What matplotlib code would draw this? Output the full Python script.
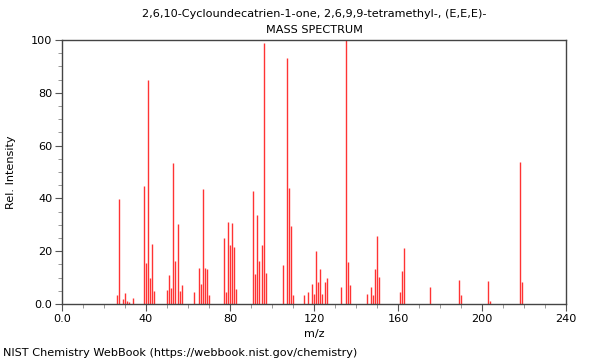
import matplotlib
matplotlib.use("Agg")
import matplotlib.pyplot as plt
from matplotlib.ticker import MultipleLocator, FixedLocator

mz = [26, 27, 29, 30, 31, 32, 34, 39, 40, 41, 42, 43, 44,
      50, 51, 52, 53, 54, 55, 56, 57, 63, 65, 66, 67, 68, 69, 70,
      77, 78, 79, 80, 81, 82, 83, 91, 92, 93, 94, 95, 96, 97,
      105, 107, 108, 109, 110, 115, 117, 119, 120, 121, 122, 123, 124, 125, 126,
      133, 135, 136, 137, 145, 147, 148, 149, 150, 151, 161, 162, 163, 175,
      189, 190, 203, 204, 218, 219]
intensity = [3.4, 39.8, 2.0, 4.0, 1.3, 0.8, 2.3, 44.8, 15.7, 84.8, 10.0, 22.9, 5.1,
             5.4, 11.0, 6.1, 53.3, 16.4, 30.4, 4.8, 7.3, 4.4, 13.6, 7.6, 43.7, 13.6, 13.3, 3.5,
             25.1, 4.5, 31.2, 22.3, 30.8, 21.5, 5.7, 42.9, 11.2, 33.8, 16.2, 22.5, 98.9, 11.9,
             14.9, 93.3, 44.1, 29.7, 3.4, 3.4, 4.4, 7.7, 3.9, 20.2, 8.5, 13.1, 3.9, 8.5, 10.0,
             6.4, 100.0, 16.0, 7.2, 3.9, 6.6, 3.5, 13.4, 25.9, 10.1, 4.5, 12.4, 21.3, 6.6,
             9.1, 3.5, 8.8, 1.3, 53.9, 8.3]

title_lines = ["2,6,10-Cycloundecatrien-1-one, 2,6,9,9-tetramethyl-, (E,E,E)-",
               "MASS SPECTRUM"]
x_ticks = [0, 40, 80, 120, 160, 200, 240]
x_tick_labels = ["0.0", "40", "80", "120", "160", "200", "240"]
y_ticks = [0, 20, 40, 60, 80, 100]
y_tick_labels = ["0.0", "20", "40", "60", "80", "100"]

plt.rcParams['font.family'] = ['DejaVu Sans']
fs = 8.15
fig = plt.figure(figsize=(6, 3.6), dpi=100)
ax = fig.add_axes([62/600, 56/360, 504/600, 264/360])

ax.vlines(mz, 0, intensity, colors='#ff3333', linewidth=1.0)

ax.set_xlim(0, 240)
ax.set_ylim(0, 100)
ax.xaxis.set_major_locator(FixedLocator(x_ticks))
ax.set_xticklabels(x_tick_labels)
ax.xaxis.set_minor_locator(MultipleLocator(10))
ax.yaxis.set_major_locator(FixedLocator(y_ticks))
ax.set_yticklabels(y_tick_labels)
ax.yaxis.set_minor_locator(MultipleLocator(5))

edge = '#444444'
for s in ax.spines.values():
    s.set_color(edge)
    s.set_linewidth(1.0)
ax.tick_params(axis='both', which='major', length=5, width=0.8, color='#555555',
               labelsize=fs, pad=2, labelcolor='black')
ax.tick_params(axis='both', which='minor', length=3, width=0.6, color='#888888')

ax.set_xlabel("m/z", fontsize=fs, labelpad=4)
ax.set_ylabel("Rel. Intensity", fontsize=fs, labelpad=11)

fig.text(314/600, 1 - 14/360, title_lines[0], ha='center', va='center', fontsize=fs)
fig.text(314/600, 1 - 30/360, title_lines[1], ha='center', va='center', fontsize=fs)
fig.text(3/600, 1 - 353/360, "NIST Chemistry WebBook (https://webbook.nist.gov/chemistry)",
         ha='left', va='center', fontsize=fs)

fig.savefig("out.png", dpi=100)
